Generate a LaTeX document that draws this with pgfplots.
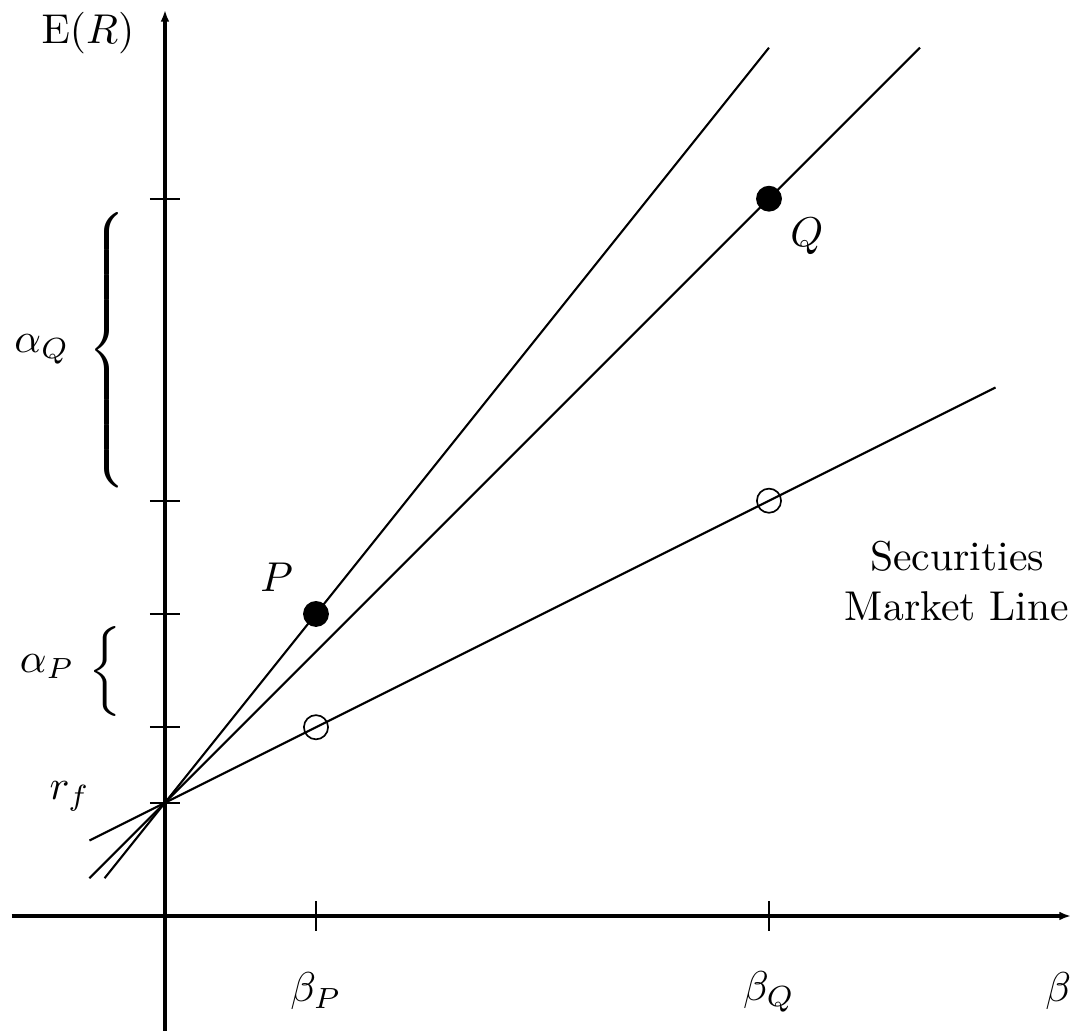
\documentclass[border=0pt]{standalone}
\usepackage{pgfplots}
\pgfplotsset{compat=1.18}
\usetikzlibrary{arrows.meta}

\begin{document}
\begin{tikzpicture}
\begin{axis}[
  x=18.12pt, y=18.12pt,
  xmin=-2.03, xmax=12.0, ymin=-1.523, ymax=12.0,
  axis lines=middle,
  axis line style={line width=0.75pt, -{Latex[length=2.8pt,width=2.1pt]}},
  enlargelimits=false,
  clip=false,
  xtick={2,8}, ytick={1.5,2.5,4,5.5,9.5},
  xticklabels={}, yticklabels={},
  tick align=center,
  major tick length=7.2pt,
  tick style={line width=0.5pt, black},
]
% security market line and the two characteristic lines
\addplot[black, line width=0.5pt] coordinates {(-1,1) (11,7)};
\addplot[black, line width=0.5pt] coordinates {(-0.8,0.5) (8,11.5)};
\addplot[black, line width=0.5pt] coordinates {(-1,0.5) (10,11.5)};
% actual returns of P and Q
\addplot[only marks, mark=*, mark size=2.9pt, black] coordinates {(2,4) (8,9.5)};
% required returns on the SML
\addplot[only marks, mark=o, mark size=2.9pt, mark options={line width=0.4pt}, black] coordinates {(2,2.5) (8,5.5)};

% labels
\node at (axis cs:-1.02,11.69) {$\mathrm{E}(R)$};
\node at (axis cs:11.83,-1.0) {$\beta$};
\node at (axis cs:2,-1.0) {$\beta_P$};
\node at (axis cs:8,-1.0) {$\beta_Q$};
\node at (axis cs:-1.26,1.58) {$r_f$};
\node at (axis cs:1.48,4.48) {$P$};
\node at (axis cs:8.5,9.0) {$Q$};
\node[align=center] at (axis cs:10.49,4.44) {Securities\\Market Line};

% alphas
\node at (axis cs:-1.63,7.5) {$\alpha_Q$};
\node[anchor=west, inner sep=0pt] at (axis cs:-1.02,7.49)
  {$\delimiterfactor=1000 \delimitershortfall=0pt \left\{\vrule height 35.5pt depth 30.5pt width 0pt\right.$};
\node at (axis cs:-1.56,3.3) {$\alpha_P$};
\node[anchor=west, inner sep=0pt, scale=1.2] at (axis cs:-1.02,3.24) {$\Big\{$};

\coordinate (bbSW) at (axis cs:-2.185,-1.523);
\coordinate (bbNE) at (axis cs:12.119,12.132);
\end{axis}
\pgfresetboundingbox
\path[use as bounding box] (bbSW) rectangle (bbNE);
\end{tikzpicture}
\end{document}
